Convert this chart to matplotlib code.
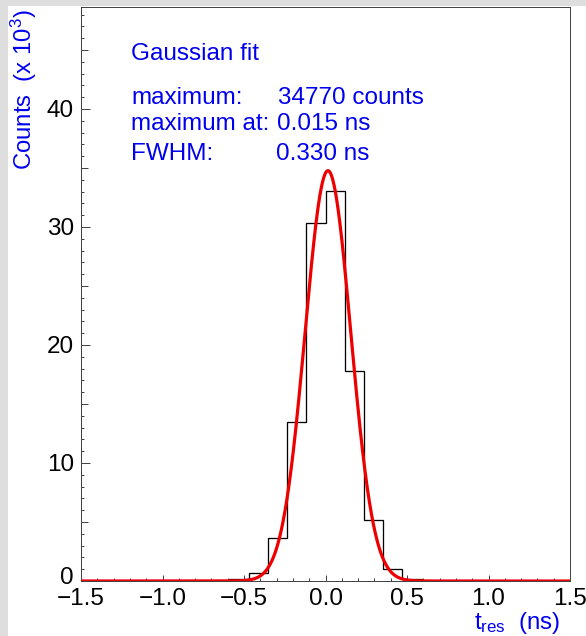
import numpy as np
import matplotlib
matplotlib.use("Agg")
import matplotlib.pyplot as plt
from matplotlib.patches import Rectangle
from matplotlib.ticker import MultipleLocator, FixedLocator, FuncFormatter
import matplotlib.transforms as mtransforms

# ---------------- data ----------------
bin_edges = [-1.5, -0.590, -0.472, -0.354, -0.236, -0.118, 0.0, 0.118, 0.236, 0.354, 0.472, 0.590, 1.5]
counts_k = [0.0, 0.14, 0.65, 3.62, 13.5, 30.37, 33.05, 17.8, 5.17, 1.05, 0.15, 0.0]
fit_max_k = 34.77        # 34770 counts
fit_mean = 0.015         # ns
fit_fwhm = 0.330         # ns
x_range = (-1.5, 1.5)
y_range = (0.0, 48.64)
x_major = [-1.5, -1.0, -0.5, 0.0, 0.5, 1.0, 1.5]
y_major = [0, 10, 20, 30, 40]
y_medium = [5, 15, 25, 35, 45]

# ---------------- style ----------------
plt.rcParams['font.family'] = ['Liberation Sans', 'DejaVu Sans']
plt.rcParams['mathtext.fontset'] = 'custom'
plt.rcParams['mathtext.rm'] = 'Liberation Sans'
plt.rcParams['mathtext.it'] = 'Liberation Sans:italic'
plt.rcParams['mathtext.bf'] = 'Liberation Sans:bold'

W, H = 586, 636
fig = plt.figure(figsize=(W / 100, H / 100), dpi=100, facecolor='#dedede')
# white canvas panel
fig.patches.append(Rectangle((8 / W, 0), 1 - 8 / W, 1 - 6 / H, transform=fig.transFigure,
                             facecolor='white', edgecolor='none', zorder=-5))

left, right, top, bottom = 81 / W, 570 / W, 1 - 7 / H, 1 - 581 / H
ax = fig.add_axes([left, bottom, right - left, top - bottom])
ax.set_facecolor('white')

px = 0.72  # points per pixel
for s in ax.spines.values():
    s.set_color('#444444')
    s.set_linewidth(1.0 * px)

# histogram
ax.stairs(counts_k, bin_edges, color='black', linewidth=1.3 * px, zorder=2)

# gaussian fit curve
sigma = fit_fwhm / (2 * np.sqrt(2 * np.log(2)))
xs = np.linspace(x_range[0], x_range[1], 1500)
ys = fit_max_k * np.exp(-0.5 * ((xs - fit_mean) / sigma) ** 2)
ax.plot(xs, ys, color='#ee0000', linewidth=3.2 * px, zorder=3, solid_capstyle='butt')

ax.set_xlim(*x_range)
ax.set_ylim(*y_range)

# ticks
ax.xaxis.set_major_locator(FixedLocator(x_major))
ax.xaxis.set_minor_locator(MultipleLocator(0.1))
ax.yaxis.set_major_locator(FixedLocator(y_major))
ax.yaxis.set_minor_locator(MultipleLocator(1))
ax.xaxis.set_major_formatter(FuncFormatter(lambda v, p: f"{v:.1f}".replace('-', '\u2212')))
ax.yaxis.set_major_formatter(FuncFormatter(lambda v, p: f"{int(round(v))}"))
ax.tick_params(axis='both', which='both', direction='in', top=False, right=False,
               color='#444444', width=1.0 * px, labelsize=17.5)
ax.tick_params(axis='x', which='major', length=6 * px, pad=5)
ax.tick_params(axis='x', which='minor', length=3 * px)
ax.tick_params(axis='y', which='major', length=9 * px, pad=5)
ax.tick_params(axis='y', which='minor', length=3 * px)

# medium y ticks
sec = ax.secondary_yaxis('left')
sec.yaxis.set_major_locator(FixedLocator(y_medium))
sec.tick_params(axis='y', which='major', direction='in', length=6.5 * px, width=1.0 * px,
                color='#444444', labelleft=False)
sec.yaxis.set_minor_locator(FixedLocator([]))
sec.spines['left'].set_visible(False)

# raise the "0" label as ROOT does
fig.canvas.draw()
lbl0 = ax.get_yticklabels()[0]
lbl0.set_transform(lbl0.get_transform() + mtransforms.ScaledTranslation(0, 6 / 100, fig.dpi_scale_trans))

# axis titles
blue = '#0000ee'
fig.text(24 / W, 1 - 9 / H, "Counts  (x 10$^{3}$)", rotation=90, ha='center', va='top',
         color=blue, fontsize=17.2)
fig.text(560 / W, 1 - 629 / H, "t$_{\\mathrm{res}}$  (ns)", ha='right', va='baseline',
         color=blue, fontsize=17.4)

# fit info text
fs = 17.5
fig.text(131 / W, 1 - 60 / H, "Gaussian fit", color=blue, fontsize=fs, va='baseline')
fig.text(131 / W, 1 - 104 / H, "maximum:", color=blue, fontsize=fs, va='baseline')
fig.text(278 / W, 1 - 104 / H, f"{int(round(fit_max_k * 1000))} counts", color=blue, fontsize=fs, va='baseline')
fig.text(131 / W, 1 - 130 / H, "maximum at:", color=blue, fontsize=fs, va='baseline')
fig.text(277 / W, 1 - 130 / H, f"{fit_mean:.3f} ns", color=blue, fontsize=fs, va='baseline')
fig.text(131 / W, 1 - 160 / H, "FWHM:", color=blue, fontsize=fs, va='baseline')
fig.text(276 / W, 1 - 160 / H, f"{fit_fwhm:.3f} ns", color=blue, fontsize=fs, va='baseline')

fig.savefig("out.png", dpi=100, facecolor=fig.get_facecolor())
